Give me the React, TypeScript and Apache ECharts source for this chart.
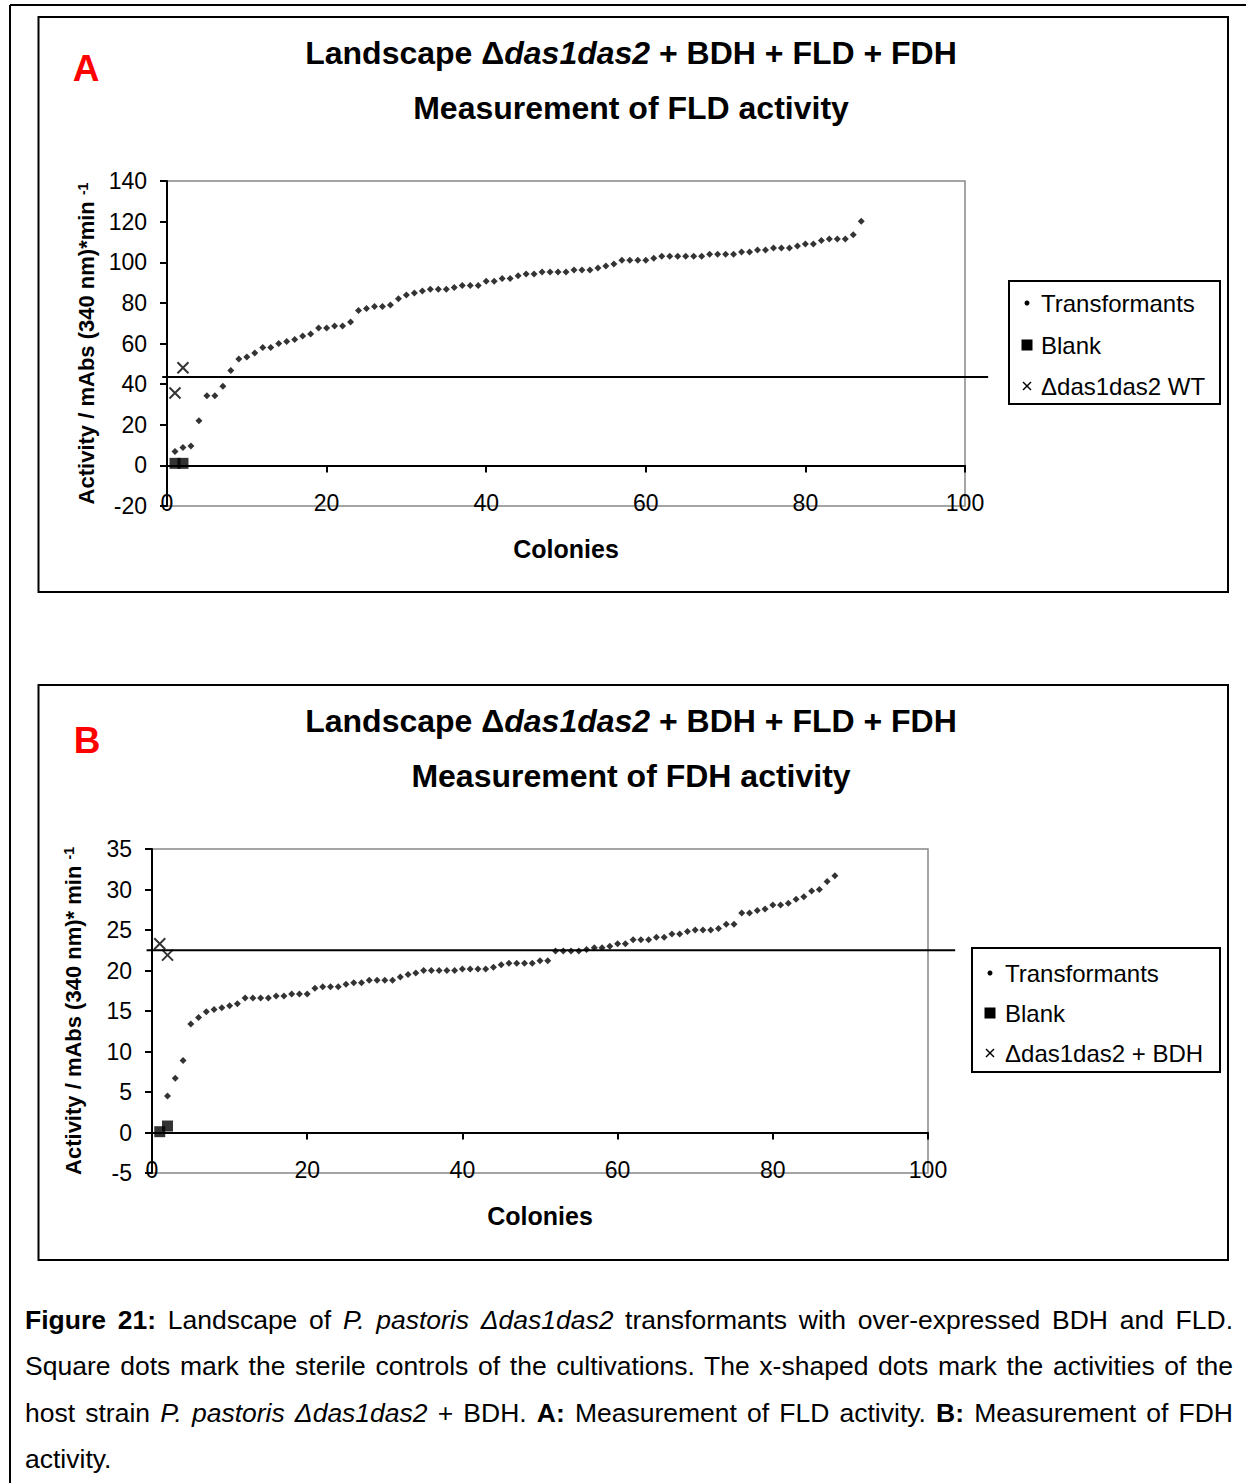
import React, { useEffect, useRef } from "react";
import * as echarts from "echarts";

const FONT = "'Liberation Sans', Arial, Helvetica, sans-serif";

// ---------- Panel A: FLD activity ----------
const fldFirstColony = 1;
const fldTransformants = [
  6.8, 8.8, 9.6, 22, 34.3, 34.3, 39, 46.7, 52.4, 53.3,
  55.3, 58, 58, 60, 61, 62, 63.7, 64.7, 67.6, 67.6,
  68.6, 68.6, 70.6, 76.3, 77.2, 78.2, 78.2, 79, 82, 83.9,
  84.9, 85.9, 86.7, 86.7, 86.7, 87.6, 88.6, 88.6, 88.6, 90.6,
  90.6, 92, 92, 93.3, 94.2, 94.2, 95.2, 95.2, 95.2, 95.2,
  96.2, 96.2, 96.2, 97.2, 98.2, 99.2, 101, 101, 101, 101,
  102, 103, 103, 103, 103, 103, 103, 104, 104, 104,
  104, 105, 105, 106, 106, 107, 107, 107, 108, 109,
  109, 110.7, 111.5, 111.5, 111.5, 113.5, 120.2,
];
const fldBlank = [
  [1, 1],
  [2, 1],
];
const fldHost = [
  [1, 35.6],
  [2, 48.1],
];
const fldThreshold = 43.5;
const fldThresholdSpan = [-0.6, 102.9];
const fldY = { min: -20, max: 140, interval: 20 };

// ---------- Panel B: FDH activity ----------
const fdhFirstColony = 2;
const fdhTransformants = [
  4.5, 6.7, 8.9, 13.4, 14.2, 14.9, 15.2, 15.4, 15.65, 15.9,
  16.6, 16.6, 16.6, 16.6, 16.85, 16.85, 17.1, 17.1, 17.1, 17.8,
  18.0, 18.0, 18.0, 18.3, 18.5, 18.5, 18.8, 18.8, 18.8, 18.8,
  19.2, 19.5, 19.7, 20.0, 20.0, 20.0, 20.0, 20.0, 20.2, 20.2,
  20.2, 20.2, 20.4, 20.7, 20.9, 20.9, 20.9, 20.9, 21.2, 21.2,
  22.4, 22.4, 22.4, 22.4, 22.6, 22.8, 22.8, 23.0, 23.3, 23.3,
  23.8, 23.8, 23.8, 24.1, 24.1, 24.5, 24.5, 24.8, 25.0, 25.0,
  25.0, 25.2, 25.7, 25.7, 27.1, 27.1, 27.4, 27.6, 28.1, 28.1,
  28.3, 28.8, 29.1, 29.8, 30.0, 31.0, 31.7,
];
const fdhBlank = [
  [1, 0.1],
  [2, 0.8],
];
const fdhHost = [
  [1, 23.3],
  [2, 21.9],
];
const fdhThreshold = 22.5;
const fdhThresholdSpan = [-0.7, 103.5];
const fdhY = { min: -5, max: 35, interval: 5 };

const colonyAxis = { min: 0, max: 100, interval: 20 };

const panelTitles = [
  ["Landscape Δ{i|das1das2} + BDH + FLD + FDH", "Measurement of FLD activity"],
  ["Landscape Δ{i|das1das2} + BDH + FLD + FDH", "Measurement of FDH activity"],
];
const panelLetters = ["A", "B"];
const legendNames = [
  ["Transformants", "Blank", "Δdas1das2 WT"],
  ["Transformants", "Blank", "Δdas1das2 + BDH"],
];
const yAxisNames = [
  "{m|Activity / mAbs (340 nm)*min }{s|-1}",
  "{m|Activity / mAbs (340 nm)* min }{s|-1}",
];
const xAxisName = "Colonies";

const CROSS = "path://M0,0L10,10M10,0L0,10";

function App() {
  const ref = useRef<HTMLDivElement>(null);

  useEffect(() => {
    if (!ref.current) return;
    const chart = echarts.init(ref.current, undefined, { renderer: "svg" });

    const grids = [
      { left: 167, top: 181, width: 798, height: 325 },
      { left: 152, top: 849, width: 776, height: 324 },
    ];
    const yRanges = [fldY, fdhY];
    const transformants = [
      fldTransformants.map((v, i) => [i + fldFirstColony, v]),
      fdhTransformants.map((v, i) => [i + fdhFirstColony, v]),
    ];
    const blanks = [fldBlank, fdhBlank];
    const hosts = [fldHost, fdhHost];
    const thresholds = [
      [fldThresholdSpan[0], fldThresholdSpan[1], fldThreshold],
      [fdhThresholdSpan[0], fdhThresholdSpan[1], fdhThreshold],
    ];

    const xAxes: any[] = [];
    const yAxes: any[] = [];
    const series: any[] = [];

    grids.forEach((g, gi) => {
      // axis at y = 0 with black line + ticks
      xAxes.push({
        gridIndex: gi,
        type: "value",
        position: "bottom",
        min: colonyAxis.min,
        max: colonyAxis.max,
        interval: colonyAxis.interval,
        axisLine: { show: true, onZero: true, lineStyle: { color: "#000", width: 2 } },
        axisTick: { show: true, inside: false, length: 7, lineStyle: { color: "#000", width: 2 } },
        axisLabel: { show: false },
        splitLine: { show: false },
      });
      // labels along the bottom of the plot area
      xAxes.push({
        gridIndex: gi,
        type: "value",
        position: "bottom",
        min: colonyAxis.min,
        max: colonyAxis.max,
        interval: colonyAxis.interval,
        axisLine: { show: false, onZero: false },
        axisTick: { show: false },
        axisLabel: {
          show: true,
          margin: -3,
          verticalAlign: "middle",
          fontSize: 23,
          fontFamily: FONT,
          color: "#000",
        },
        splitLine: { show: false },
        name: xAxisName,
        nameLocation: "middle",
        nameGap: 30,
        nameTextStyle: {
          fontFamily: FONT,
          fontSize: 25,
          fontWeight: "bold",
          color: "#000",
          verticalAlign: "top",
        },
      });
      yAxes.push({
        gridIndex: gi,
        type: "value",
        min: yRanges[gi].min,
        max: yRanges[gi].max,
        interval: yRanges[gi].interval,
        axisLine: { show: true, onZero: false, lineStyle: { color: "#000", width: 2 } },
        axisTick: { show: true, inside: false, length: 7, lineStyle: { color: "#000", width: 2 } },
        axisLabel: { margin: 20, fontSize: 23, fontFamily: FONT, color: "#000" },
        splitLine: { show: false },
        name: yAxisNames[gi],
        nameLocation: "middle",
        nameRotate: 90,
        nameGap: 68,
        nameTextStyle: {
          fontFamily: FONT,
          fontSize: 22,
          fontWeight: "bold",
          color: "#000",
          rich: {
            m: { fontFamily: FONT, fontSize: 22, fontWeight: "bold", color: "#000", lineHeight: 22 },
            s: {
              fontFamily: FONT,
              fontSize: 14,
              fontWeight: "bold",
              color: "#000",
              lineHeight: 14,
              verticalAlign: "top",
            },
          },
        },
      });

      const xi = gi * 2;
      series.push({
        name: legendNames[gi][0],
        type: "scatter",
        xAxisIndex: xi,
        yAxisIndex: gi,
        symbol: "diamond",
        symbolSize: 7,
        itemStyle: { color: "#000" },
        data: transformants[gi],
        z: 4,
      });
      series.push({
        name: legendNames[gi][1],
        type: "scatter",
        xAxisIndex: xi,
        yAxisIndex: gi,
        symbol: "rect",
        symbolSize: 11,
        itemStyle: { color: "#000" },
        data: blanks[gi],
        z: 4,
      });
      series.push({
        name: legendNames[gi][2],
        type: "scatter",
        xAxisIndex: xi,
        yAxisIndex: gi,
        symbol: CROSS,
        symbolSize: 11,
        itemStyle: { color: "transparent", borderColor: "#000", borderWidth: 2 },
        data: hosts[gi],
        z: 4,
      });
      series.push({
        type: "custom",
        xAxisIndex: xi,
        yAxisIndex: gi,
        clip: false,
        silent: true,
        z: 3,
        encode: { x: [0, 1], y: 2 },
        data: [thresholds[gi]],
        renderItem: (params: any, api: any) => {
          const y = api.value(2);
          const p1 = api.coord([api.value(0), y]);
          const p2 = api.coord([api.value(1), y]);
          return {
            type: "line",
            shape: { x1: p1[0], y1: p1[1], x2: p2[0], y2: p2[1] },
            style: { stroke: "#000", lineWidth: 2 },
          };
        },
      });
    });

    // ---- graphic decorations: frame, panel boxes, titles, legends ----
    const graphic: any[] = [];
    graphic.push({
      type: "line",
      shape: { x1: 10, y1: 5, x2: 1246, y2: 5 },
      style: { stroke: "#000", lineWidth: 2 },
    });
    graphic.push({
      type: "line",
      shape: { x1: 10, y1: 5, x2: 10, y2: 1483 },
      style: { stroke: "#000", lineWidth: 2 },
    });

    const boxes = [
      { x: 38.5, y: 17, w: 1189.5, h: 575 },
      { x: 38.5, y: 685, w: 1189.5, h: 575 },
    ];
    const titleY = [
      [53, 108],
      [721, 776],
    ];
    const letterPos = [
      [86, 68],
      [87, 740],
    ];
    const legendBoxes = [
      { x: 1009, y: 281, w: 211, h: 123, mx: 1027, tx: 1041, rows: [303, 345, 386] },
      { x: 972, y: 948, w: 248, h: 124, mx: 990, tx: 1005, rows: [973, 1013, 1053] },
    ];

    boxes.forEach((b, i) => {
      graphic.push({
        type: "rect",
        shape: { x: b.x, y: b.y, width: b.w, height: b.h },
        style: { fill: "none", stroke: "#000", lineWidth: 2 },
        z: -1,
      });
      graphic.push({
        type: "text",
        x: letterPos[i][0],
        y: letterPos[i][1],
        style: {
          text: panelLetters[i],
          fill: "#ff0000",
          fontFamily: FONT,
          fontSize: 37,
          fontWeight: "bold",
          align: "center",
          verticalAlign: "middle",
        },
      });
      titleY[i].forEach((ty, li) => {
        graphic.push({
          type: "text",
          x: 631,
          y: ty,
          style: {
            text: panelTitles[i][li],
            fill: "#000",
            fontFamily: FONT,
            fontSize: 32,
            fontWeight: "bold",
            align: "center",
            verticalAlign: "middle",
            rich: {
              i: {
                fontFamily: FONT,
                fontSize: 32,
                fontWeight: "bold",
                fontStyle: "italic",
                fill: "#000",
              },
            },
          },
        });
      });

      const L = legendBoxes[i];
      graphic.push({
        type: "rect",
        shape: { x: L.x, y: L.y, width: L.w, height: L.h },
        style: { fill: "#fff", stroke: "#000", lineWidth: 2 },
      });
      // dot
      graphic.push({
        type: "circle",
        shape: { cx: L.mx, cy: L.rows[0], r: 2.5 },
        style: { fill: "#000" },
      });
      // square
      graphic.push({
        type: "rect",
        shape: { x: L.mx - 5.5, y: L.rows[1] - 5.5, width: 11, height: 11 },
        style: { fill: "#000" },
      });
      // cross
      graphic.push({
        type: "line",
        shape: { x1: L.mx - 4, y1: L.rows[2] - 4, x2: L.mx + 4, y2: L.rows[2] + 4 },
        style: { stroke: "#000", lineWidth: 1.5 },
      });
      graphic.push({
        type: "line",
        shape: { x1: L.mx + 4, y1: L.rows[2] - 4, x2: L.mx - 4, y2: L.rows[2] + 4 },
        style: { stroke: "#000", lineWidth: 1.5 },
      });
      L.rows.forEach((ry, ri) => {
        graphic.push({
          type: "text",
          x: L.tx,
          y: ry,
          style: {
            text: legendNames[i][ri],
            fill: "#000",
            fontFamily: FONT,
            fontSize: 24,
            align: "left",
            verticalAlign: "middle",
          },
        });
      });
    });

    chart.setOption({
      animation: false,
      backgroundColor: "#fff",
      textStyle: { fontFamily: FONT },
      grid: grids.map((g) => ({
        ...g,
        show: true,
        borderColor: "#888888",
        borderWidth: 1.5,
        backgroundColor: "transparent",
        containLabel: false,
      })),
      xAxis: xAxes,
      yAxis: yAxes,
      series,
      graphic,
    });

    return () => {
      chart.dispose();
    };
  }, []);

  const justify: React.CSSProperties = {
    textAlign: "justify",
    textAlignLast: "justify",
  };

  return (
    <div
      style={{
        position: "absolute",
        left: 0,
        top: 0,
        width: 1246,
        height: 1483,
        background: "#fff",
        overflow: "hidden",
      }}
    >
      <div ref={ref} style={{ position: "absolute", left: 0, top: 0, width: 1246, height: 1483 }} />
      <div
        style={{
          position: "absolute",
          left: 25,
          top: 1297,
          width: 1208,
          fontFamily: FONT,
          fontSize: 26.5,
          lineHeight: "46.3px",
          color: "#000",
        }}
      >
        <div style={justify}>
          <b>Figure 21:</b> Landscape of <i>P. pastoris Δdas1das2</i> transformants with over-expressed BDH and FLD.
        </div>
        <div style={justify}>
          Square dots mark the sterile controls of the cultivations. The x-shaped dots mark the activities of the
        </div>
        <div style={justify}>
          host strain <i>P. pastoris Δdas1das2</i> + BDH. <b>A:</b> Measurement of FLD activity. <b>B:</b> Measurement of FDH
        </div>
        <div>activity.</div>
      </div>
    </div>
  );
}

export default App;
